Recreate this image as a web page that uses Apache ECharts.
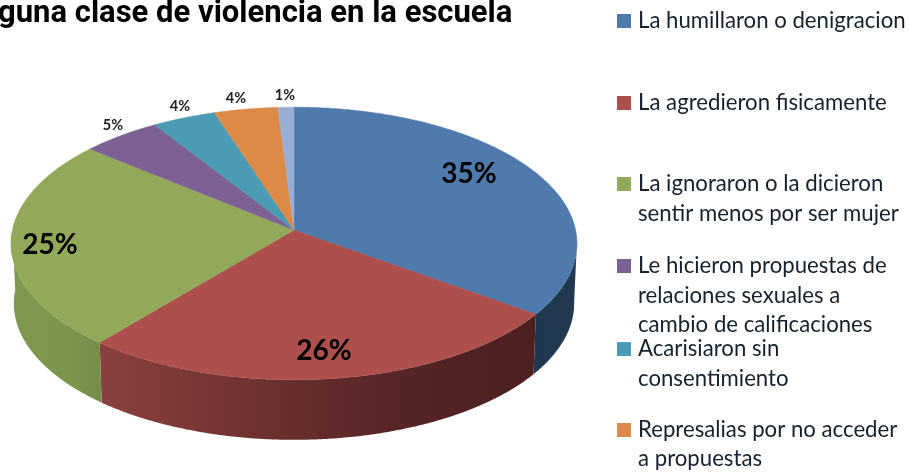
<!DOCTYPE html>
<html><head><meta charset="utf-8">
<style>html,body{margin:0;padding:0;background:#fff}#c{width:910px;height:474px}</style>
<script src="https://cdn.jsdelivr.net/npm/echarts@6/dist/echarts.min.js"></script>
</head><body><div id="c"></div>
<script>
const titleText = 'guna clase de violencia en la escuela';
const categories = ['La humillaron o denigracion','La agredieron fisicamente','La ignoraron o la dicieron sentir menos por ser mujer','Le hicieron propuestas de relaciones sexuales a cambio de calificaciones','Acarisiaron sin consentimiento','Represalias por no acceder a propuestas','Otra'];
const values = [35, 26, 25, 5, 4, 4, 1];

// styles and layout, separate from the data
const topColors = ['#4f7aac','#ad4f4c','#93a95a','#7d6195','#4a9bb3','#db8b47','#98aed4'];
const sideStops = [
  [[0,'#1f3850'],[1,'#22384f']],
  [[0,'#8b403f'],[0.35,'#6f3231'],[0.7,'#552424'],[1,'#4d2020']],
  [[0,'#7f9850'],[0.6,'#7d964e'],[1,'#758c4a']],
  [[0,'#5e4870'],[1,'#5e4870']],[[0,'#377487'],[1,'#377487']],[[0,'#a56835'],[1,'#a56835']],[[0,'#7283a0'],[1,'#7283a0']]
];
const labelCentres = [[469,174],[324,351],[50,245],[113,125],[180,106],[236,98],[285,95]];
const labelSizes = [28,28,28,14.5,14.5,14.5,14.5];
const legendLines = [
  [0, ['La humillaron o denigracion'], [21]],
  [1, ['La agredieron fisicamente'], [103]],
  [2, ['La ignoraron o la dicieron','sentir menos por ser mujer'], [184,214]],
  [3, ['Le hicieron propuestas de','relaciones sexuales a','cambio de calificaciones'], [266,296,325]],
  [4, ['Acarisiaron sin','consentimiento'], [349,379]],
  [5, ['Represalias por no acceder','a propuestas'], [430,459]]
];
const cx = 294, cy = 230, rxBase = 281.6, ryBase = 135, persp = 0.099, depth = 60;

// circle seen in perspective: theta clockwise from the top, in degrees
function project(deg, r) {
  const t = deg * Math.PI / 180, u = Math.sin(t) * r, v = Math.cos(t) * r, w = 1 + persp * v;
  return [cx + rxBase * u / w, cy - ryBase * v / w];
}
function projectLow(deg) {
  const p = project(deg, 1);
  return [cx + (p[0] - cx) * 0.99, p[1] + depth];
}
const total = values.reduce((a, b) => a + b, 0);
const starts = [];
values.reduce((acc, v, i) => { starts[i] = acc; return acc + v; }, 0);

function renderSlice(params, api) {
  const i = params.dataIndex, v = api.value(0);
  const a0 = starts[i] / total * 360, a1 = a0 + v / total * 360;
  const pts = [[cx, cy]];
  for (let a = a0; a < a1; a += 0.5) pts.push(project(a, 1));
  pts.push(project(a1, 1));
  const children = [];
  const s0 = Math.max(a0, 95), s1 = Math.min(a1, 270);
  if (s1 > s0) {
    const upper = [], lower = [];
    for (let a = s0; a < s1; a += 0.5) { upper.push(project(a, 1)); lower.push(projectLow(a)); }
    upper.push(project(s1, 1)); lower.push(projectLow(s1));
    const xs = upper.concat(lower).map(p => p[0]);
    const xMin = Math.min(...xs), xMax = Math.max(...xs);
    children.push({
      type: 'polygon', z2: 1,
      shape: { points: upper.concat(lower.reverse()) },
      style: { fill: new echarts.graphic.LinearGradient(xMin, 0, xMax, 0,
        sideStops[i].map(s => ({ offset: s[0], color: s[1] })), true) }
    });
  }
  children.push({ type: 'polygon', z2: 2, shape: { points: pts },
    style: { fill: topColors[i], stroke: topColors[i], lineWidth: 0.5 } });
  return { type: 'group', children };
}
function renderLabel(params, api) {
  const i = params.dataIndex, v = api.value(0);
  return { type: 'text', z2: 10, x: labelCentres[i][0], y: labelCentres[i][1],
    style: { text: v + '%', fontFamily: 'Lato', fontWeight: 'bold', fontSize: labelSizes[i],
      fill: i < 3 ? '#000' : '#222', align: 'center', verticalAlign: 'middle' } };
}

const graphics = [{ type: 'text', x: -2, y: 14, style: { text: titleText, fontFamily: 'Roboto',
  fontWeight: 'bold', fontSize: 31, fill: '#000', verticalAlign: 'middle' } }];
legendLines.forEach(([idx, lines, ys]) => {
  graphics.push({ type: 'rect', shape: { x: 617, y: ys[0] - 7, width: 14, height: 14 }, style: { fill: topColors[idx] } });
  lines.forEach((t, k) => graphics.push({ type: 'text', x: 638, y: ys[k],
    style: { text: t, fontFamily: 'Lato', fontSize: 22.2, fill: '#14222d', verticalAlign: 'middle' } }));
});

const chart = echarts.init(document.getElementById('c'), null, { renderer: 'canvas' });
const seriesData = values.map((v, i) => ({ name: categories[i], value: [v] }));
chart.setOption({
  animation: false,
  backgroundColor: '#fff',
  graphic: graphics,
  series: [
    { type: 'custom', coordinateSystem: 'none', renderItem: renderSlice, data: seriesData, silent: true, z: 2 },
    { type: 'custom', coordinateSystem: 'none', renderItem: renderLabel, data: seriesData, silent: true, z: 3 }
  ]
});
</script></body></html>
